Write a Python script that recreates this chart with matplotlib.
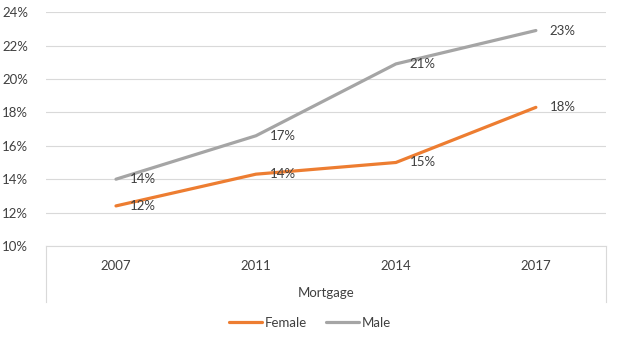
import matplotlib
matplotlib.use("Agg")
import matplotlib.pyplot as plt
from matplotlib.ticker import PercentFormatter

years = ["2007", "2011", "2014", "2017"]
female = [12.4, 14.3, 15.0, 18.3]
male = [14.0, 16.6, 20.9, 22.9]
female_labels = ["12%", "14%", "15%", "18%"]
male_labels = ["14%", "17%", "21%", "23%"]
yticks = [10, 12, 14, 16, 18, 20, 22, 24]

plt.rcParams['font.family'] = ['Lato', 'DejaVu Sans']
text_color = '#404040'
grid_color = '#D9D9D9'
fs = 9.5

fig = plt.figure(figsize=(6.2, 3.37), dpi=100)
ax = fig.add_axes([0.0742, 0.270, 0.903, 0.694])

x = list(range(len(years)))
ax.plot(x, female, color='#ED7D31', lw=2.3, solid_capstyle='round', label='Female', zorder=3)
ax.plot(x, male, color='#A5A5A5', lw=2.3, solid_capstyle='round', label='Male', zorder=3)

# data labels to the right of each point
for xi, v, lab in zip(x, female, female_labels):
    ax.annotate(lab, (xi, v), xytext=(10, 0), textcoords='offset points',
                ha='left', va='center', fontsize=fs, color=text_color)
for xi, v, lab in zip(x, male, male_labels):
    ax.annotate(lab, (xi, v), xytext=(10, 0), textcoords='offset points',
                ha='left', va='center', fontsize=fs, color=text_color)

ax.set_xlim(-0.5, 3.5)
ax.set_ylim(10, 24)
ax.set_yticks(yticks)
ax.yaxis.set_major_formatter(PercentFormatter(decimals=0))
ax.set_xticks(x)
ax.set_xticklabels(years)
ax.tick_params(axis='both', length=0, labelsize=fs, labelcolor=text_color)
ax.tick_params(axis='x', pad=10)
ax.tick_params(axis='y', pad=13)

ax.grid(axis='y', color=grid_color, lw=0.8)
ax.set_axisbelow(True)
for s in ['top', 'right', 'left']:
    ax.spines[s].set_visible(False)
ax.spines['bottom'].set_color(grid_color)
ax.spines['bottom'].set_linewidth(0.8)

# category box below the axis
for xe in (0, 1):
    ax.plot([xe, xe], [0, -0.24], transform=ax.transAxes, color=grid_color,
            lw=0.8, clip_on=False)
ax.text(0.5, -0.20, "Mortgage", transform=ax.transAxes, ha='center', va='center',
        fontsize=fs, color=text_color)

fig.legend(loc='center', bbox_to_anchor=(0.5, 0.042), ncol=2, frameon=False,
           fontsize=fs, handlelength=2.5, handletextpad=0.2, columnspacing=1.4,
           labelcolor=text_color)

fig.savefig("out.png", dpi=100)
